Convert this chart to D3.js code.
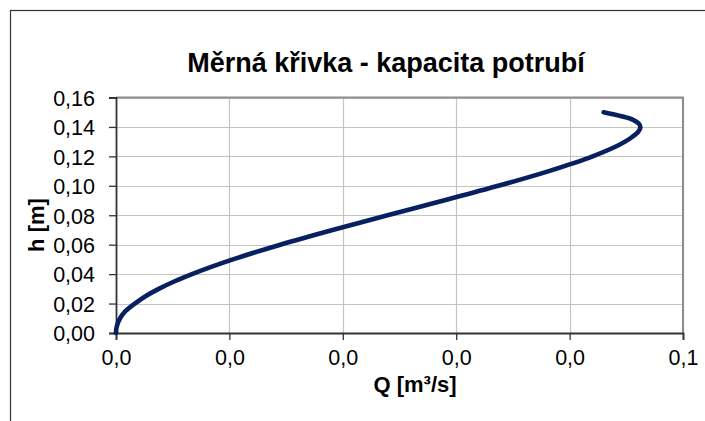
<!DOCTYPE html>
<html>
<head>
<meta charset="utf-8">
<script src="https://cdn.jsdelivr.net/npm/d3@7"></script>
<style>
  body { margin: 0; background: #fff; }
  svg { display: block; }
  text { font-family: Arial, "Liberation Sans", sans-serif; fill: #000; }
</style>
</head>
<body>
<svg id="chart" width="705" height="421"></svg>
<script>
// Rating curve of a circular pipe: water depth h [m] vs. discharge Q [m3/s]
const depthH = [0, 0.0025, 0.005, 0.01, 0.015, 0.02, 0.025, 0.03, 0.035, 0.04, 0.05,
                0.06, 0.07, 0.08, 0.09, 0.10, 0.11, 0.12, 0.13, 0.14, 0.145, 0.15];
const flowQ  = [0, 0.00002, 0.00009, 0.00036, 0.00085, 0.00166, 0.00260, 0.00377, 0.00513, 0.00670, 0.01031,
                0.01449, 0.01910, 0.02395, 0.02889, 0.03371, 0.03817, 0.04203, 0.04489, 0.04624, 0.04555, 0.04300];

const yTickValues = [0, 0.02, 0.04, 0.06, 0.08, 0.10, 0.12, 0.14, 0.16];
const yTickLabels = ["0,00", "0,02", "0,04", "0,06", "0,08", "0,10", "0,12", "0,14", "0,16"];
const xTickValues = [0, 0.01, 0.02, 0.03, 0.04, 0.05];
const xTickLabels = ["0,0", "0,0", "0,0", "0,0", "0,0", "0,1"];

const chartTitle = "Měrná křivka - kapacita potrubí";
const xTitle = "Q [m³/s]";
const yTitle = "h [m]";

const svg = d3.select("#chart");
const plot = { left: 116, right: 683, top: 97.5, bottom: 333 };

const x = d3.scaleLinear().domain([0, 0.05]).range([plot.left, plot.right]);
const y = d3.scaleLinear().domain([0, 0.16]).range([plot.bottom, plot.top]);

// chart area frame
svg.append("rect")
  .attr("x", 10.5).attr("y", 10.5)
  .attr("width", 720).attr("height", 430)
  .attr("fill", "#fff").attr("stroke", "#333").attr("stroke-width", 1.2);

// title
svg.append("text")
  .attr("x", 386).attr("y", 71.5)
  .attr("text-anchor", "middle")
  .style("font-size", "27px").style("font-weight", "bold")
  .text(chartTitle);

// gridlines
const grid = svg.append("g");
grid.selectAll("line.h").data(yTickValues.slice(1)).join("line")
  .attr("x1", plot.left).attr("x2", plot.right)
  .attr("y1", d => Math.round(y(d)) + 0.5).attr("y2", d => Math.round(y(d)) + 0.5)
  .attr("stroke", "#c4c4c4").attr("stroke-width", 1.2);
grid.selectAll("line.v").data(xTickValues.slice(1)).join("line")
  .attr("y1", plot.top).attr("y2", plot.bottom)
  .attr("x1", d => Math.round(x(d)) + 0.5).attr("x2", d => Math.round(x(d)) + 0.5)
  .attr("stroke", "#c4c4c4").attr("stroke-width", 1.2);

// plot-area frame (top and right)
svg.append("path")
  .attr("d", `M${plot.left},${plot.top}H${plot.right}V${plot.bottom}`)
  .attr("fill", "none").attr("stroke", "#8c8c8c").attr("stroke-width", 2);

// axes
const yAxis = d3.axisLeft(y).tickValues(yTickValues)
  .tickFormat((d, i) => yTickLabels[i]).tickSize(7).tickPadding(14);
const xAxis = d3.axisBottom(x).tickValues(xTickValues)
  .tickFormat((d, i) => xTickLabels[i]).tickSize(7).tickPadding(10);

const gy = svg.append("g").attr("transform", `translate(${plot.left},0)`).call(yAxis);
const gx = svg.append("g").attr("transform", `translate(0,${plot.bottom})`).call(xAxis);
[gx, gy].forEach(g => {
  g.select(".domain").attr("stroke", "#333").attr("stroke-width", 1.8);
  g.selectAll(".tick line").attr("stroke", "#333").attr("stroke-width", 1.3);
  g.selectAll(".tick text").style("font-size", "21.5px").style("font-family", "Arial, 'Liberation Sans', sans-serif").attr("fill", "#000");
});
gy.selectAll(".tick text").attr("dy", "0.36em");

// axis titles
svg.append("text")
  .attr("x", 415).attr("y", 392)
  .attr("text-anchor", "middle")
  .style("font-size", "22px").style("font-weight", "bold")
  .text(xTitle);
svg.append("text")
  .attr("transform", "translate(44,225) rotate(-90)")
  .attr("text-anchor", "middle")
  .style("font-size", "22px").style("font-weight", "bold")
  .text(yTitle);

// rating curve
const pts = depthH.map((h, i) => ({ h, q: flowQ[i] }));
svg.append("path")
  .datum(pts)
  .attr("d", d3.line().x(d => x(d.q)).y(d => y(d.h)).curve(d3.curveMonotoneY))
  .attr("fill", "none")
  .attr("stroke", "#062060")
  .attr("stroke-width", 4.6)
  .attr("stroke-linecap", "round")
  .attr("stroke-linejoin", "round");
</script>
</body>
</html>
